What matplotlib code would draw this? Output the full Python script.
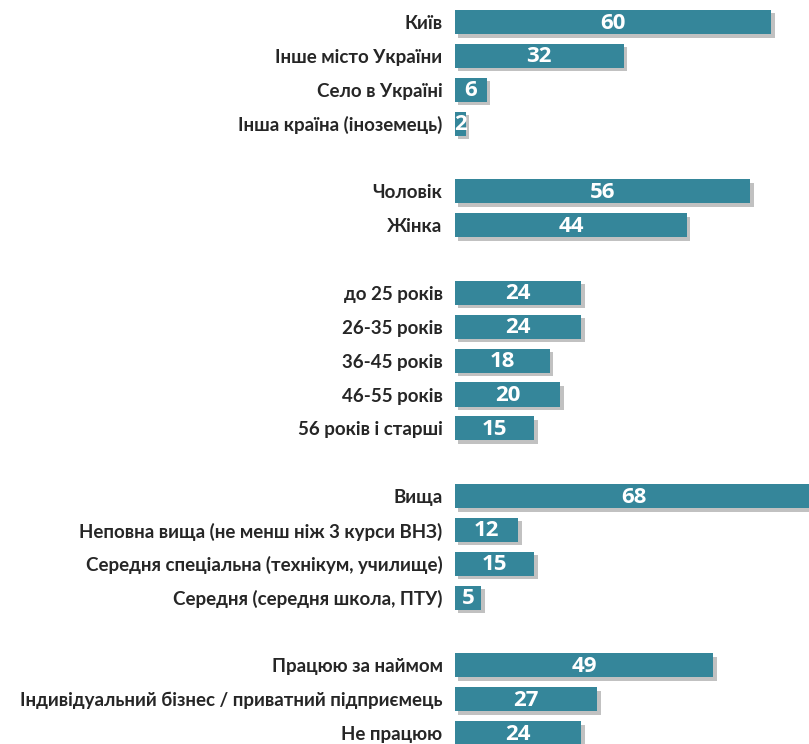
import matplotlib
matplotlib.use('Agg')
import matplotlib.pyplot as plt
from matplotlib import patheffects as pe

# data, one list per block of the chart
place_labels = ['Київ', 'Інше місто України', 'Село в Україні', 'Інша країна (іноземець)']
place_values = [60, 32, 6, 2]

sex_labels = ['Чоловік', 'Жінка']
sex_values = [56, 44]

age_labels = ['до 25 років', '26-35 років', '36-45 років', '46-55 років', '56 років і старші']
age_values = [24, 24, 18, 20, 15]

edu_labels = ['Вища', 'Неповна вища (не менш ніж 3 курси ВНЗ)',
              'Середня спеціальна (технікум, училище)', 'Середня (середня школа, ПТУ)']
edu_values = [68, 12, 15, 5]

work_labels = ['Працюю за наймом', 'Індивідуальний бізнес / приватний підприємець', 'Не працюю']
work_values = [49, 27, 24]

groups = [
    (place_labels, place_values),
    (sex_labels, sex_values),
    (age_labels, age_values),
    (edu_labels, edu_values),
    (work_labels, work_values),
]

BAR_COLOR = '#35869a'
LABEL_FONT = ['Lato', 'DejaVu Sans']
VALUE_FONT = ['Open Sans', 'DejaVu Sans']

# lay rows out with one empty slot between groups
labels, values, rows = [], [], []
r = 0
for g_labels, g_values in groups:
    for lab, val in zip(g_labels, g_values):
        labels.append(lab)
        values.append(val)
        rows.append(r)
        r += 1
    r += 1

fig = plt.figure(figsize=(8.09, 7.44), dpi=100)
ax = fig.add_axes([455 / 809, 0, (809 - 455) / 809, 1])

bars = ax.barh(rows, values, height=0.71, color=BAR_COLOR, zorder=3)
for b in bars:
    b.set_path_effects([pe.SimplePatchShadow(offset=(2.5, -2.5), shadow_rgbFace='#777777', alpha=0.45),
                        pe.Normal()])

for y, v in zip(rows, values):
    ax.text(v / 2, y + 0.03, str(v), ha='center', va='center', color='white',
            fontsize=16, fontweight='bold', family=VALUE_FONT, zorder=4)

ax.set_xlim(0, 354 / 5.27)
ax.set_ylim(21.32, -0.65)
ax.set_yticks(rows)
ax.set_yticklabels(labels, fontsize=13.5, fontweight='bold', color='#262626', family=LABEL_FONT)
ax.tick_params(axis='y', length=0, pad=9)
ax.set_xticks([])
for s in ax.spines.values():
    s.set_visible(False)

fig.savefig('out.png', dpi=100)
